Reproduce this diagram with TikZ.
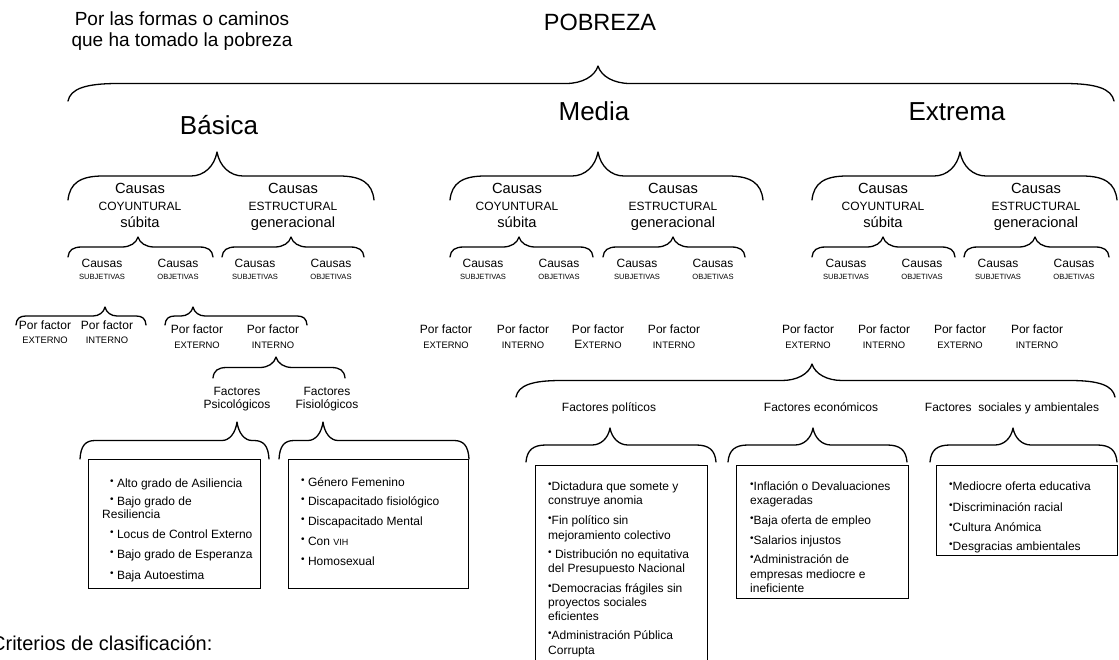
\documentclass[tikz,border=0pt]{standalone}
\usepackage{fontspec}
\setmainfont{Liberation Sans}
\newcommand\fsz[1]{\fontsize{#1}{#1}\selectfont}
\newcommand\bul{{\fsz{10}\raisebox{2.6pt}{•}}}
\newcommand\brc[7]{%
 \pgfmathsetmacro\ym{(#4+#5)/2}%
 \pgfmathsetmacro\hh{(#5-#4)/2}%
 \draw[brcline] (#1,#5) .. controls ({#1+0.05*#6},{\ym+0.3*\hh}) and ({#1+0.35*#6},\ym) .. ({#1+#6},\ym) -- ({#2-#7},\ym) .. controls ({#2-0.5*#7},\ym) and ({#2-0.1*#7},{\ym-0.4*\hh}) .. (#2,#4) .. controls ({#2+0.1*#7},{\ym-0.4*\hh}) and ({#2+0.5*#7},\ym) .. ({#2+#7},\ym) -- ({#3-#6},\ym) .. controls ({#3-0.35*#6},\ym) and ({#3-0.05*#6},{\ym+0.3*\hh}) .. (#3,#5);}
\begin{document}
\begin{tikzpicture}[x=1pt,y=-1pt,
 brcline/.style={line width=1.3pt,line cap=round,line join=round},
 lbl/.style={inner sep=0pt,anchor=base},
 lw/.style={inner sep=0pt,anchor=base west,font=\fsz{12}},
 bx/.style={draw,line width=1.3pt,inner sep=0pt,anchor=north west}]
\clip (0,0) rectangle (1119,660);
\fill[white] (0,0) rectangle (1119,660);
% top texts
\node[lbl,font=\fsz{19}] (q1) at (182,26) {Por las formas o caminos};
\node[lbl,font=\fsz{19}] (q2) at (182,47) {que ha tomado la pobreza};
\node[lbl,font=\fsz{23.5}] (pob) at (600,31) {POBREZA};
\brc{68}{598}{1114}{66}{101}{50}{32}
% level 1
\node[lbl,font=\fsz{26}] (bas) at (219,135) {Básica};
\node[lbl,font=\fsz{26}] (med) at (594,121) {Media};
\node[lbl,font=\fsz{26}] (ext) at (957,121) {Extrema};
% level 2 braces
\brc{68}{217}{374}{152}{200}{35}{26}
\brc{450}{598}{763}{152}{200}{35}{26}
\brc{812}{960}{1117}{152}{200}{35}{26}
\foreach \x/\c/\t/\n in {140/COYUNTURAL/súbita/a1,293/ESTRUCTURAL/generacional/a2,517/COYUNTURAL/súbita/a3,673/ESTRUCTURAL/generacional/a4,883/COYUNTURAL/súbita/a5,1036/ESTRUCTURAL/generacional/a6}{
 \node[lbl,font=\fsz{14.7}] (c\n) at (\x,194) {Causas};
 \node[lbl,font=\fsz{12}] (k\n) at (\x,211) {\c};
 \node[lbl,font=\fsz{14.7}] (t\n) at (\x,228) {\t};
}
% level 3 braces
\foreach \a/\b/\c in {68/138/213,222/291/364,450/519/593,603/673/745,812/883/955,964/1035/1109}{
 \brc{\a}{\b}{\c}{237}{257}{14}{16}
}
\foreach \x/\c/\n in {102/SUBJETIVAS/b1,178/OBJETIVAS/b2,255/SUBJETIVAS/b3,331/OBJETIVAS/b4,483/SUBJETIVAS/b5,559/OBJETIVAS/b6,637/SUBJETIVAS/b7,713/OBJETIVAS/b8,846/SUBJETIVAS/b9,922/OBJETIVAS/b10,998/SUBJETIVAS/b11,1074/OBJETIVAS/b12}{
 \node[lbl,font=\fsz{12}] (c\n) at (\x,268) {Causas};
 \node[lbl,font=\fsz{7.6}] (s\n) at (\x,280) {\c};
}
% level 4 (Basica)
\brc{16}{105}{146}{307}{325}{10}{12}
\brc{165}{193}{307}{307}{325}{10}{12}
\node[lbl,font=\fsz{12}] (p1) at (45,330) {Por factor};
\node[lbl,font=\fsz{9.4}] (e1) at (45,343.5) {EXTERNO};
\node[lbl,font=\fsz{12}] (p2) at (107,330) {Por factor};
\node[lbl,font=\fsz{9.4}] (e2) at (107,343.5) {INTERNO};
\foreach \x/\c/\n in {197/EXTERNO/3,273/INTERNO/4,446/EXTERNO/5,523/INTERNO/6,674/INTERNO/8,808/EXTERNO/9,884/INTERNO/10,960/EXTERNO/11,1037/INTERNO/12}{
 \node[lbl,font=\fsz{12}] (p\n) at (\x,334) {Por factor};
 \node[lbl,font=\fsz{9.4}] (e\n) at (\x,348.5) {\c};
}
\node[lbl,font=\fsz{12}] (p7) at (598,334) {Por factor};
\node[lbl] (e7) at (598,348.5) {{\fsz{12}E}{\fsz{9.4}XTERNO}};
% Basica interno branch
\brc{213}{276}{345}{357}{378}{14}{16}
\node[lbl,font=\fsz{12}] (f1) at (237,395) {Factores};
\node[lbl,font=\fsz{12}] (g1) at (237,408) {Psicológicos};
\node[lbl,font=\fsz{12}] (f2) at (327,395) {Factores};
\node[lbl,font=\fsz{12}] (g2) at (327,408) {Fisiológicos};
\brc{80}{237}{269}{422}{459}{15}{15}
\brc{279}{323}{469}{422}{459}{15}{15}
\node[bx,minimum width=172pt,minimum height=129pt] (box1) at (88,459) {};
\node[bx,minimum width=180pt,minimum height=129pt] (box2) at (288,459) {};
\node[lw] (l1) at (110,487) {\bul\ Alto grado de Asiliencia};
\node[lw] (l2) at (110,505) {\bul\ Bajo grado de};
\node[lw] (l2b) at (102,518) {Resiliencia};
\node[lw] (l3) at (110,538) {\bul\ Locus de Control Externo};
\node[lw] (l4) at (110,558) {\bul\ Bajo grado de Esperanza};
\node[lw] (l5) at (110,579) {\bul\ Baja Autoestima};
\node[lw] (m1) at (301,486) {\bul\ Género Femenino};
\node[lw] (m2) at (301,505) {\bul\ Discapacitado fisiológico};
\node[lw] (m3) at (301,525) {\bul\ Discapacitado Mental};
\node[lw] (m4) at (301,545) {\bul\ Con {\fsz{9}VIH}};
\node[lw] (m5) at (301,565) {\bul\ Homosexual};
% Extrema externo branch
\brc{516}{812}{1115}{364}{397}{45}{30}
\node[lbl,font=\fsz{12}] (fp) at (609,411) {Factores políticos};
\node[lbl,font=\fsz{12}] (fe) at (821,411) {Factores económicos};
\node[lbl,font=\fsz{12}] (fs) at (1012,411) {Factores\ \ sociales y ambientales};
\brc{526}{610}{716}{428}{462}{20}{18}
\brc{728}{813}{907}{428}{462}{20}{18}
\brc{930}{1013}{1117}{428}{462}{20}{18}
\node[bx,minimum width=172pt,minimum height=215pt] (boxA) at (535,465) {};
\node[bx,minimum width=172pt,minimum height=133pt] (boxB) at (736,465) {};
\node[bx,minimum width=181pt,minimum height=90pt] (boxC) at (936,465) {};
\node[lw] (a1) at (548,490) {\bul Dictadura que somete y};
\node[lw] (a1b) at (548,504) {construye anomia};
\node[lw] (a2) at (548,524) {\bul Fin político sin};
\node[lw] (a2b) at (548,539) {mejoramiento colectivo};
\node[lw] (a3) at (548,558) {\bul\ Distribución no equitativa};
\node[lw] (a3b) at (548,572) {del Presupuesto Nacional};
\node[lw] (a4) at (548,592) {\bul Democracias frágiles sin};
\node[lw] (a4b) at (548,606) {proyectos sociales};
\node[lw] (a4c) at (548,620) {eficientes};
\node[lw] (a5) at (548,639) {\bul Administración Pública};
\node[lw] (a5b) at (548,654) {Corrupta};
\node[lw] (b1) at (750,490) {\bul Inflación o Devaluaciones};
\node[lw] (b1b) at (750,504) {exageradas};
\node[lw] (b2) at (750,524) {\bul Baja oferta de empleo};
\node[lw] (b3) at (750,544) {\bul Salarios injustos};
\node[lw] (b4) at (750,563) {\bul Administración de};
\node[lw] (b4b) at (750,578) {empresas mediocre e};
\node[lw] (b4c) at (750,592) {ineficiente};
\node[lw] (d1) at (949,490) {\bul Mediocre oferta educativa};
\node[lw] (d2) at (949,511) {\bul Discriminación racial};
\node[lw] (d3) at (949,531) {\bul Cultura Anómica};
\node[lw] (d4) at (949,550) {\bul Desgracias ambientales};
% bottom text
\node[inner sep=0pt,anchor=base west,font=\fsz{20}] (crit) at (-9,650) {Criterios de clasificación:};
\end{tikzpicture}
\end{document}
